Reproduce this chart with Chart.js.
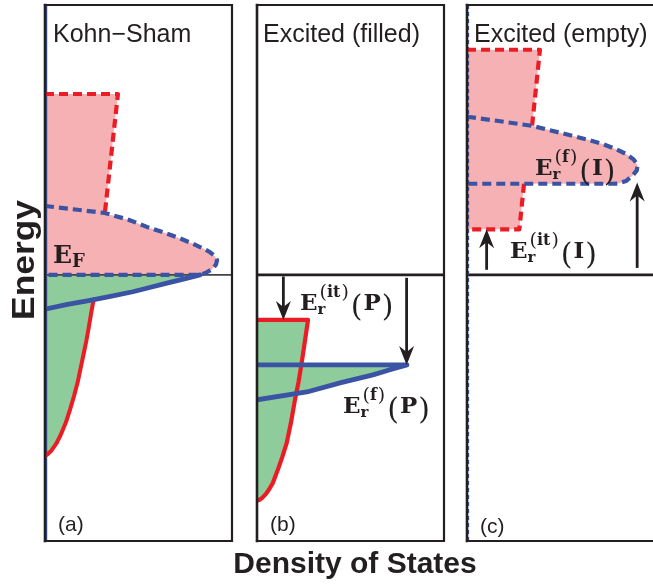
<!DOCTYPE html>
<html><head><meta charset="utf-8">
<script src="https://cdn.jsdelivr.net/npm/chart.js@4.4.1/dist/chart.umd.min.js"></script>
<style>
html,body{margin:0;padding:0;background:#fff;}
#wrap{position:relative;width:653px;height:586px;overflow:hidden;background:#fff;}
#wrap canvas{position:absolute;left:0;top:0;}
</style></head><body>
<div id="wrap">
<canvas id="ca" width="653" height="586" style="width:653px;height:586px"></canvas>
<canvas id="cb" width="653" height="586" style="width:653px;height:586px"></canvas>
<canvas id="cc" width="653" height="586" style="width:653px;height:586px"></canvas>
</div>
<script>
// ---------- text ----------
const panelTitles = ['Kohn\u2212Sham', 'Excited (filled)', 'Excited (empty)'];
const panelTags = ['(a)', '(b)', '(c)'];
const xAxisTitle = 'Density of States';
const yAxisTitle = 'Energy';

// ---------- axes (arbitrary units; Fermi level at 0) ----------
const energyLimits = [-9.93, 10.07];
const dosLimits = [0, 10];
const fermiLevel = 0;

// ---------- (a) Kohn-Sham ----------
const ksEmptyStep = [[0,6.75],[3.9,6.75],[3.2,2.3]];
const ksEmptyLobe = [[0,2.57],[1.5,2.45],[3.2,2.31],[4.5,2.05],[5.45,1.79],[6.4,1.57],[7.22,1.36],[7.85,1.18],[8.35,1.02],[8.8,0.86],[9.08,0.7],[9.2,0.55],[9.14,0.38],[8.92,0.2],[8.55,0.06],[8.29,0],[0,0]];
const ksOccBlue = [[8.29,0],[7.4,-0.16],[6.52,-0.31],[5.6,-0.47],[4.7,-0.63],[3.5,-0.8],[2.41,-0.95],[1.2,-1.1],[0,-1.28]];
const ksOccRed = [[2.6,-0.92],[2.45,-1.5],[2.33,-2.0],[2.2,-2.5],[2.05,-3.0],[1.9,-3.5],[1.75,-4.0],[1.56,-4.5],[1.35,-5.0],[1.12,-5.5],[0.82,-6.0],[0.6,-6.3],[0.35,-6.55],[0.12,-6.7],[0,-6.75]];

// ---------- (b) Excited (filled) ----------
const pOccRed = [[0,-1.68],[2.73,-1.68],[2.39,-3.28],[2.22,-4.0],[2.03,-4.66],[1.82,-5.5],[1.59,-6.27],[1.35,-6.8],[1.15,-7.2],[0.85,-7.76],[0.65,-8.0],[0.48,-8.17],[0.28,-8.32],[0.12,-8.4],[0,-8.42]];
const pOccBlue = [[0,-3.36],[8.02,-3.36],[7.11,-3.54],[6.2,-3.73],[4.44,-4.03],[2.67,-4.37],[0,-4.66]];
const pOccFill = [[0,-1.68],[2.73,-1.68],[2.39,-3.28],[2.37,-3.36],[8.02,-3.36],[7.11,-3.54],[6.2,-3.73],[4.44,-4.03],[2.67,-4.37],[2.1,-4.43],[2.03,-4.66],[1.82,-5.5],[1.59,-6.27],[1.35,-6.8],[1.15,-7.2],[0.85,-7.76],[0.65,-8.0],[0.48,-8.17],[0.28,-8.32],[0.12,-8.4],[0,-8.42]];
const pArrows = [[1.41,-0.06,-1.68],[8.0,-0.11,-3.36]];   // [DOS, from, to]

// ---------- (c) Excited (empty) ----------
const iEmptyStepTop = [[0,8.4],[3.9,8.4],[3.48,5.56]];
const iEmptyLobe = [[0,5.9],[1.6,5.75],[3.48,5.56],[5.0,5.3],[6.47,5.04],[7.27,4.88],[8.0,4.68],[8.54,4.5],[8.92,4.3],[9.12,4.1],[9.08,3.9],[8.85,3.7],[8.5,3.5],[8.1,3.41],[7.75,3.4],[0,3.4]];
const iEmptyStepLow = [[3.05,3.4],[2.8,1.7],[0,1.7]];
const iArrows = [[1.05,0.19,1.7],[9.1,0.26,3.45]];

// ---------- derived fill shapes ----------
const ksEmptyFill = [...ksEmptyStep, ...ksEmptyLobe.filter((p,i)=>i>2)];
const ksOccFill = [[0,0], ...ksOccBlue.filter(p=>p[0]>2.6), ...ksOccRed];
const iEmptyFill = [...iEmptyStepTop, ...iEmptyLobe.slice(3,15), ...iEmptyStepLow];

// ---------- styles ----------
const INK = '#231f20', PINK = '#f6b1b5', GREEN = '#8ecd9b', RED = '#ec1c24', BLUE = '#3a53a4';
const W = 653, H = 586;

const pts = arr => arr.map(([x,y]) => ({x, y}));
function area(arr, color){ return {data: pts(arr), showLine:true, fill:'shape', backgroundColor:color, borderColor:'rgba(0,0,0,0)', borderWidth:0, pointRadius:0, order:6}; }
function curve(arr, color, width, dash, order){ return {data: pts(arr), showLine:true, fill:false, borderColor:color, borderWidth:width, borderDash:dash||[], borderCapStyle: dash ? 'butt':'round', borderJoinStyle:'round', pointRadius:0, order: order||1}; }

function drawArrow(ctx, x, y0, y1){
  const d = Math.sign(y1 - y0);
  ctx.save();
  ctx.strokeStyle = INK; ctx.fillStyle = INK; ctx.lineWidth = 2.8;
  ctx.beginPath(); ctx.moveTo(x, y0); ctx.lineTo(x, y1 - d*10); ctx.stroke();
  ctx.beginPath();
  ctx.moveTo(x, y1);
  ctx.lineTo(x - 7.5, y1 - d*19);
  ctx.lineTo(x, y1 - d*13);
  ctx.lineTo(x + 7.5, y1 - d*19);
  ctx.closePath(); ctx.fill();
  ctx.restore();
}

function drawMath(ctx, x, y, l){
  const B = s => `bold ${s}px "DejaVu Serif", serif`;
  const R = s => `${s}px "DejaVu Serif", serif`;
  ctx.save();
  ctx.fillStyle = INK; ctx.textAlign = 'left'; ctx.textBaseline = 'alphabetic';
  ctx.font = B(l.big ? 25 : 23);
  ctx.fillText('E', x, y);
  let cx = x + ctx.measureText('E').width;
  ctx.font = B(l.big ? 18 : 15);
  ctx.fillText(l.sub, cx, y + 4);
  const wSub = ctx.measureText(l.sub).width;
  let wSup = 0;
  if (l.sup){
    let s = cx + 2;
    ctx.font = R(19); ctx.fillText('(', s, y - 12); s += ctx.measureText('(').width;
    ctx.font = B(16); ctx.fillText(l.sup, s, y - 13); s += ctx.measureText(l.sup).width + 1;
    ctx.font = R(19); ctx.fillText(')', s, y - 12); s += ctx.measureText(')').width;
    wSup = s - cx;
  }
  cx += Math.max(wSub, wSup) + 2;
  if (l.arg){
    ctx.font = R(30); ctx.fillText('(', cx, y + 6); cx += ctx.measureText('(').width + 1;
    ctx.font = B(23); ctx.fillText(l.arg, cx, y); cx += ctx.measureText(l.arg).width + 1;
    ctx.font = R(30); ctx.fillText(')', cx, y + 6);
  }
  ctx.restore();
}

const decor = {
  id: 'decor',
  afterDatasetsDraw(chart, args, o){
    const ctx = chart.ctx, a = chart.chartArea;
    const X = v => chart.scales.x.getPixelForValue(v);
    const Y = v => chart.scales.y.getPixelForValue(v);
    (o.arrows||[]).forEach(([xv, e0, e1]) => drawArrow(ctx, X(xv), Y(e0), Y(e1)));
    (o.labels||[]).forEach(l => drawMath(ctx, X(l.x), Y(l.y), l));
    ctx.save();
    ctx.strokeStyle = INK; ctx.lineCap = 'square';
    ctx.lineWidth = 2.6;
    ctx.beginPath(); ctx.moveTo(a.left, a.top); ctx.lineTo(a.left, a.bottom); ctx.stroke();
    ctx.lineWidth = 2.2;
    ctx.beginPath();
    ctx.moveTo(a.left, a.top); ctx.lineTo(o.noRight ? W + 5 : a.right, a.top);
    ctx.moveTo(a.left, a.bottom); ctx.lineTo(o.noRight ? W + 5 : a.right, a.bottom);
    if (!o.noRight){ ctx.moveTo(a.right, a.top); ctx.lineTo(a.right, a.bottom); }
    ctx.stroke();
    ctx.fillStyle = INK; ctx.textAlign = 'left'; ctx.textBaseline = 'alphabetic';
    ctx.font = '25px "Liberation Sans", Arial, sans-serif';
    ctx.fillText(o.title, a.left + o.titleDx, a.top + 37);
    ctx.font = '21px "Liberation Sans", Arial, sans-serif';
    ctx.fillText(o.tag, a.left + o.tagDx, a.bottom - o.tagDy);
    if (o.axisTitles){
      ctx.font = 'bold 30px "Liberation Sans", Arial, sans-serif';
      ctx.textAlign = 'center';
      ctx.fillText(xAxisTitle, 355, 573);
      ctx.save(); ctx.translate(34, 260); ctx.rotate(-Math.PI/2); ctx.scale(1.14, 1);
      ctx.font = 'bold 31px "Liberation Sans", Arial, sans-serif';
      ctx.fillText(yAxisTitle, 0, 0); ctx.restore();
    }
    ctx.restore();
  }
};

function makeChart(id, left, right, xMax, datasets, decorOpts){
  return new Chart(document.getElementById(id), {
    type: 'scatter',
    data: {datasets},
    options: {
      responsive:false, animation:false, events:[],
      layout:{padding:{left:left, right:W-right, top:5, bottom:H-541}},
      scales:{
        x:{type:'linear', display:false, min:dosLimits[0], max:xMax},
        y:{type:'linear', display:false, min:energyLimits[0], max:energyLimits[1]}
      },
      elements:{point:{radius:0}, line:{tension:0}},
      plugins:{legend:{display:false}, tooltip:{enabled:false}, decor:decorOpts}
    },
    plugins:[decor]
  });
}

const xMaxC = dosLimits[1] * 186/187;
const fermi = xm => [[0,fermiLevel],[xm,fermiLevel]];
const leftEdge = [[0.08,energyLimits[0]],[0.08,energyLimits[1]]];

makeChart('ca', 45, 232, dosLimits[1], [
  area(ksEmptyFill, PINK),
  area(ksOccFill, GREEN),
  curve(fermi(dosLimits[1]), '#444', 1.6, null, 4),
  curve(leftEdge, BLUE, 1.5, null, 3),
  curve(ksEmptyStep, RED, 4.2, [9,5], 2),
  curve(ksEmptyLobe, BLUE, 4.2, [9,5], 1),
  curve(ksOccRed, RED, 4, null, 2),
  curve(ksOccBlue, BLUE, 4.8, null, 1)
], {title: panelTitles[0], titleDx: 8, tag: panelTags[0], tagDx: 13, tagDy: 10, axisTitles: true,
    labels: [{x:0.43, y:0.45, sub:'F', big:true}]});

makeChart('cb', 257, 444, dosLimits[1], [
  area(pOccFill, GREEN),
  curve(fermi(dosLimits[1]), INK, 2.8, null, 4),
  curve(pOccRed, RED, 4.2, null, 2),
  curve(pOccBlue, BLUE, 4.8, null, 1)
], {title: panelTitles[1], titleDx: 6, tag: panelTags[1], tagDx: 13, tagDy: 10, arrows: pArrows,
    labels: [{x:2.3, y:-1.31, sub:'r', sup:'it', arg:'P'}, {x:4.6, y:-5.15, sub:'r', sup:'f', arg:'P'}]});

makeChart('cc', 467, W, xMaxC, [
  area(iEmptyFill, PINK),
  curve(fermi(xMaxC), INK, 2.8, null, 4),
  curve(leftEdge, BLUE, 1.3, [4,3], 3),
  curve(iEmptyStepTop, RED, 4.2, [9,5], 2),
  curve(iEmptyStepLow, RED, 4.2, [9,5], 2),
  curve(iEmptyLobe, BLUE, 4.2, [9,5], 1)
], {title: panelTitles[2], titleDx: 7, tag: panelTags[2], tagDx: 13, tagDy: 8, noRight: true, arrows: iArrows,
    labels: [{x:3.64, y:3.73, sub:'r', sup:'f', arg:'I'}, {x:2.3, y:0.63, sub:'r', sup:'it', arg:'I'}]});
</script>
</body></html>
